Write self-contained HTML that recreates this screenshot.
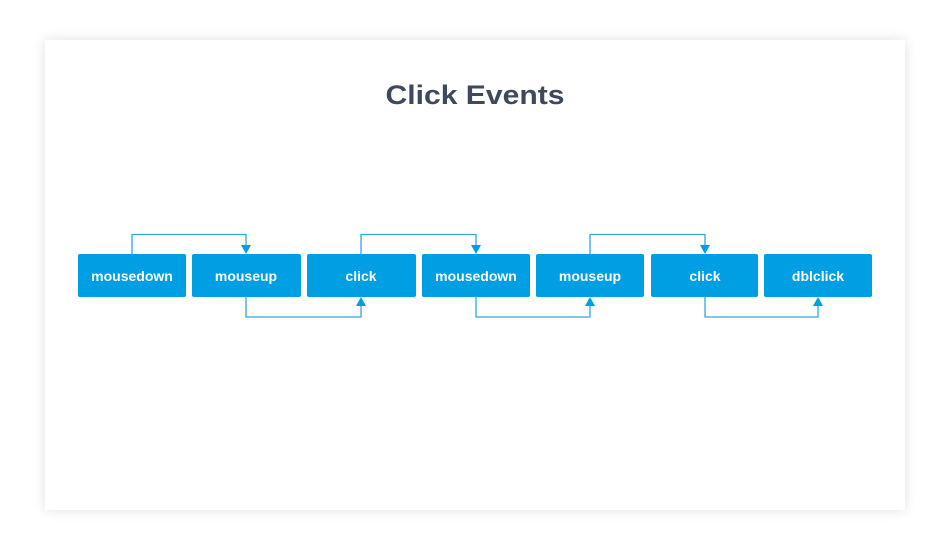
<!DOCTYPE html>
<html><head><style>
html,body{margin:0;padding:0;background:#fff;width:950px;height:550px;overflow:hidden}
.card{position:absolute;left:45px;top:40px;width:860px;height:470px;background:#fff;box-shadow:0 0 12px rgba(0,0,0,0.12)}
svg{position:absolute;left:0;top:0}
</style></head><body>
<div class="card"></div>
<svg width="950" height="550" viewBox="0 0 950 550" font-family="Liberation Sans, sans-serif">
<text x="475" y="104" text-anchor="middle" font-size="27" font-weight="bold" fill="#3e4a5b" textLength="179" lengthAdjust="spacingAndGlyphs">Click Events</text>
<g fill="#009fe3">
<rect x="78" y="254" width="108" height="43" rx="2"/>
<rect x="192" y="254" width="109" height="43" rx="2"/>
<rect x="307" y="254" width="109" height="43" rx="2"/>
<rect x="422" y="254" width="108" height="43" rx="2"/>
<rect x="536" y="254" width="108" height="43" rx="2"/>
<rect x="651" y="254" width="107" height="43" rx="2"/>
<rect x="764" y="254" width="108" height="43" rx="2"/>
</g>
<g fill="#fff" font-size="14" font-weight="bold" text-anchor="middle">
<text x="132" y="281">mousedown</text>
<text x="246" y="281">mouseup</text>
<text x="361" y="281">click</text>
<text x="476" y="281">mousedown</text>
<text x="590" y="281">mouseup</text>
<text x="705" y="281">click</text>
<text x="818" y="281">dblclick</text>
</g>
<g fill="none" stroke="#2fa8e3" stroke-width="1.3">
<path d="M132 254V234.5H246V247"/>
<path d="M361 254V234.5H476V247"/>
<path d="M590 254V234.5H705V247"/>
<path d="M246 297V317H361V305"/>
<path d="M476 297V317H590V305"/>
<path d="M705 297V317H818V305"/>
</g>
<g fill="#009fe3">
<path d="M241 245h10l-5 9z"/>
<path d="M471 245h10l-5 9z"/>
<path d="M700 245h10l-5 9z"/>
<path d="M356 306h10l-5 -9z"/>
<path d="M585 306h10l-5 -9z"/>
<path d="M813 306h10l-5 -9z"/>
</g>
</svg>
</body></html>
